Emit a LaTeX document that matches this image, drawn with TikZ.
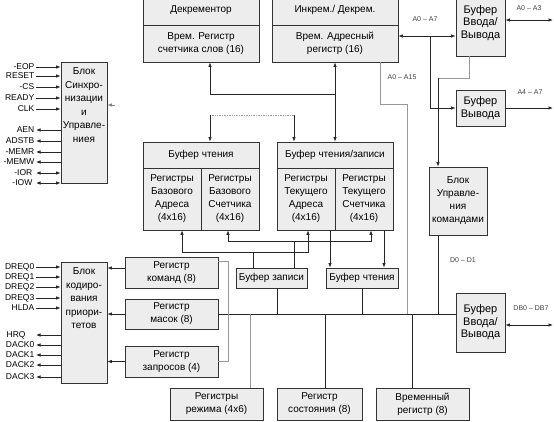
\documentclass[tikz,border=0pt]{standalone}
\usepackage{fontspec}
\setmainfont{Liberation Sans}
\usetikzlibrary{arrows.meta}
\begin{document}
\begin{tikzpicture}[x=1pt,y=-1pt,
  box/.style={draw=black!80, fill=black!7, line width=0.8pt, inner sep=0pt, align=center, font=\fontsize{10}{13}\selectfont},
  bigbox/.style={box, font=\fontsize{11}{12.5}\selectfont},
  txt/.style={inner sep=0pt, align=center, font=\fontsize{10}{13.5}\selectfont},
  ln/.style={line width=0.7pt, draw=black!85},
  gln/.style={line width=0.7pt, draw=black!40},
  arr/.style={ln, -{Latex[length=4.5pt,width=3.5pt]}},
  darr/.style={ln, {Latex[length=4.5pt,width=3.5pt]}-{Latex[length=4.5pt,width=3.5pt]}},
  rarr/.style={ln, {Latex[length=4.5pt,width=3.5pt]}-},
  sig/.style={font=\fontsize{8.5}{9}\selectfont, inner sep=0.5pt},
  lbl/.style={font=\fontsize{7}{8}\selectfont, text=black!75, inner sep=0pt}]
\useasboundingbox (0,0) rectangle (554,422);

% ---- boxes ----
\node[box, minimum width=116, minimum height=30] (dech) at (201,10) {Декрементор};
\node[box, minimum width=116, minimum height=37] (decr) at (201,43.5) {Врем. Регистр\\счетчика слов (16)};
\node[box, minimum width=126, minimum height=30] (inch) at (335,10) {Инкрем./ Декрем.};
\node[box, minimum width=126, minimum height=37] (incr) at (335,43.5) {Врем. Адресный\\регистр (16)};
\node[bigbox, minimum width=49, minimum height=66] (bio1) at (480.5,23) {Буфер\\Ввода/\\Вывода};
\node[bigbox, minimum width=49, minimum height=36] (bo) at (480.5,108) {Буфер\\Вывода};
\node[box, minimum width=58, minimum height=68] (buc) at (458,201) {Блок\\Управле-\\ния\\командами};
\node[bigbox, minimum width=49, minimum height=59] (bio2) at (480.5,322.5) {Буфер\\Ввода/\\Вывода};

\node[box, minimum width=46, minimum height=121] (sync) at (84,122.5) {};
\node[txt, anchor=north] (syncT) at ([yshift=-6]sync.north) {Блок\\Синхро-\\низации\\и\\Управле-\\ниея};
\node[box, minimum width=46, minimum height=121] (prio) at (84,322.5) {};
\node[txt, anchor=north] (prioT) at ([yshift=-6]prio.north) {Блок\\кодиро-\\вания\\приори-\\тетов};

\node[box, minimum width=93, minimum height=31] (rcmd) at (171.5,272.5) {Регистр\\команд (8)};
\node[box, minimum width=93, minimum height=30] (rmask) at (171.5,314) {Регистр\\масок (8)};
\node[box, minimum width=93, minimum height=31] (rreq) at (171.5,361.5) {Регистр\\запросов (4)};
\node[box, minimum width=93, minimum height=32] (rmode) at (216.5,404) {Регистры\\режима (4x6)};
\node[box, minimum width=85, minimum height=32] (rstat) at (319.5,404) {Регистр\\состояния (8)};
\node[box, minimum width=93, minimum height=32] (rtemp) at (422.5,404) {Временный\\регистр (8)};

\node[box, minimum width=116, minimum height=26] (gLh) at (201,155) {Буфер чтения};
\node[box, minimum width=58, minimum height=62] (gLa) at (172,199) {Регистры\\Базового\\Адреса\\(4x16)};
\node[box, minimum width=58, minimum height=62] (gLc) at (230,199) {Регистры\\Базового\\Счетчика\\(4x16)};
\node[box, minimum width=116, minimum height=26] (gRh) at (335,155) {Буфер чтения/записи};
\node[box, minimum width=58, minimum height=62] (gRa) at (306,199) {Регистры\\Текущего\\Адреса\\(4x16)};
\node[box, minimum width=58, minimum height=62] (gRc) at (364,199) {Регистры\\Текущего\\Счетчика\\(4x16)};

\node[box, minimum width=71, minimum height=20] (bwr) at (271.5,278) {Буфер записи};
\node[box, minimum width=72, minimum height=20] (brd) at (362,278) {Буфер чтения};

% ---- helper coordinates ----
\coordinate (rx) at (553,0);
\coordinate (busy) at (0,314);
\coordinate (a07) at (0,36);
\coordinate (a03) at (0,20);
\coordinate (db) at (0,325);

% ---- top connectors ----
\draw[darr] (incr.south) -- (gRh.north);
\coordinate (j1) at (335,94);
\draw[arr] (j1) -| ([xshift=9]decr.south);
\coordinate (jd1) at (210,115);
\coordinate (jd2) at (294,115);
\draw[gln, densely dotted, line width=0.5pt] (jd1) -- (jd2);
\draw[arr] (jd1) -- (jd1 |- gLh.north);
\draw[arr] (jd2) -- (jd2 |- gRh.north);

\draw[darr] (incr.east |- a07) -- (bio1.west |- a07);
\coordinate (j2) at (430,36);
\draw[arr] (j2) |- (bo.west);
\draw[darr] (bio1.east |- a03) -- (rx |- a03);
\draw[arr] (bo.east) -- (rx |- bo.east);

\coordinate (j3) at (469,78);
\coordinate (j3b) at (438,78);
\draw[gln] (bio1.south -| j3) -- (j3) -- (j3b);
\draw[arr] (j3b) -- (j3b |- buc.north);

\coordinate (j4) at (380,104);
\coordinate (j5) at (407,104);
\draw[gln] (incr.south -| j4) -- (j4) -- (j5) -- (j5 |- busy);

\draw[ln] (buc.south -| j3b) -- (j3b |- busy);

% ---- bus ----
\draw[ln] (rmask.east) -- (rmask.east -| bio2.west);
\draw[darr] (bio2.east |- db) -- (rx |- db);

\coordinate (cx) at (228,0);
\draw[gln] ([yshift=11.5]rcmd.east) -| (cx |- rreq.east) -- (rreq.east);

\draw[arr] ([yshift=4.5]rcmd.west) -- ([yshift=4.5]rcmd.west -| prio.east);
\draw[arr] (rmask.west) -- (rmask.west -| prio.east);
\draw[arr] (rreq.west) -- (rreq.west -| prio.east);

\coordinate (m1) at (250,314);
\draw[gln] (m1) -- (m1 |- rmode.north);
\coordinate (m2) at (325,314);
\draw[ln] (m2) -- (m2 |- rstat.north);
\coordinate (m3) at (412,314);
\draw[ln] (m3) -- (m3 |- rtemp.north);
\coordinate (m4) at (277,314);
\draw[ln] (m4 |- bwr.south) -- (m4);
\coordinate (m5) at (362,314);
\draw[ln] (brd.south) -- (m5);

% ---- register buffers ----
\coordinate (u1) at (253,252);
\coordinate (u2) at (294,241);
\draw[ln] (bwr.north -| u1) -- (u1);
\draw[arr] (u1) -| ([xshift=10]gLa.south);
\draw[arr] (u1) -| ([xshift=2]gRa.south);
\draw[ln] (bwr.north -| u2) -- (u2);
\draw[arr] (u2) -| ([xshift=-2]gLc.south);
\draw[arr] (u2) -| ([xshift=7]gRc.south);
\draw[arr] ([xshift=24]gRa.south) -- ([xshift=24]gRa.south |- brd.north);
\draw[arr] ([xshift=20]gRc.south) -- ([xshift=20]gRc.south |- brd.north);

\coordinate (sa) at (115,105);
\draw[arr, draw=black!50] (sa) -- (sa -| sync.east);

% ---- labels ----
\node[lbl] (la07) at (425,19) {A0 – A7};
\node[lbl] (la03) at (529,8) {A0 – A3};
\node[lbl] (la47) at (530,92) {A4 – A7};
\node[lbl] (la15) at (402,77) {A0 – A15};
\node[lbl] (ld01) at (463,260) {D0 – D1};
\node[lbl] (ldb) at (531,308) {DB0 – DB7};

% ---- signals ----
\coordinate (ax) at (36,0);
\foreach \n/\t/\y in {eop/-EOP/67, rst/RESET/76, cs/-CS/87, rdy/READY/98, clk/CLK/109}{
  \node[sig, anchor=east] (s\n) at (35,\y) {\t};
  \draw[arr] (s\n -| ax) -- (s\n -| sync.west);
}
\foreach \n/\t/\y in {aen/AEN/130, ads/ADSTB/141, mr/-MEMR/152, mw/-MEMW/162}{
  \node[sig, anchor=east] (s\n) at (35,\y) {\t};
  \draw[rarr] (s\n -| ax) -- (s\n -| sync.west);
}
\foreach \n/\t/\y in {ior/-IOR/173, iow/-IOW/183}{
  \node[sig, anchor=east] (s\n) at (33,\y) {\t};
  \draw[darr] (s\n -| ax) -- (s\n -| sync.west);
}
\foreach \n/\t/\y in {d0/DREQ0/267, d1/DREQ1/277, d2/DREQ2/287, d3/DREQ3/298, hl/HLDA/308}{
  \node[sig, anchor=east] (s\n) at (35,\y) {\t};
  \draw[arr] (s\n -| ax) -- (s\n -| prio.west);
}
\node[sig, anchor=west] (shrq) at (6,335) {HRQ};
\draw[rarr] (shrq -| ax) -- (shrq -| prio.west);
\foreach \n/\t/\y in {k0/DACK0/345, k1/DACK1/355, k2/DACK2/365, k3/DACK3/377}{
  \node[sig, anchor=east] (s\n) at (35,\y) {\t};
  \draw[rarr] (s\n -| ax) -- (s\n -| prio.west);
}
\end{tikzpicture}
\end{document}
